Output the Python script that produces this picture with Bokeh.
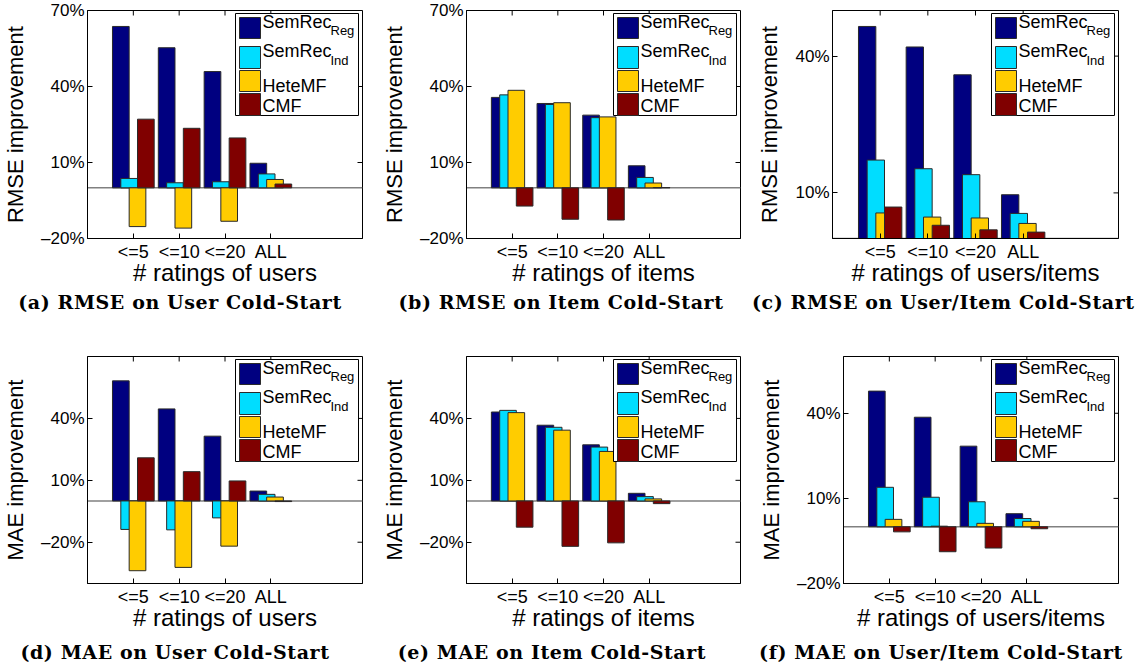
import numpy as np
from bokeh.plotting import figure
from bokeh.models import Range1d, FixedTicker, Span, BoxAnnotation, Label, Div
from bokeh.layouts import column, row
from bokeh.embed import file_html
from bokeh.resources import INLINE

# ---------------- data ----------------
categories = ["<=5", "<=10", "<=20", "ALL"]
series_names = ["SemRec", "SemRec", "HeteMF", "CMF"]
series_subs = ["Reg", "Ind", "", ""]
colors = ["#000080", "#00DDFF", "#FFCC00", "#800000"]

# (a) RMSE on User Cold-Start
a_reg = [63.7, 55.3, 45.9, 9.7]
a_ind = [3.7, 2.0, 2.4, 5.5]
a_hete = [-15.3, -15.9, -13.2, 3.3]
a_cmf = [27.1, 23.5, 19.7, 1.5]

# (b) RMSE on Item Cold-Start
b_reg = [35.7, 33.3, 28.7, 8.7]
b_ind = [36.7, 32.9, 27.7, 4.1]
b_hete = [38.5, 33.6, 28.0, 1.9]
b_cmf = [-7.2, -12.4, -12.7, 0.1]

# (c) RMSE on User/Item Cold-Start
c_reg = [46.5, 42.0, 35.9, 9.6]
c_ind = [17.2, 15.3, 14.0, 5.5]
c_hete = [5.6, 4.7, 4.5, 3.3]
c_cmf = [6.9, 2.9, 1.9, 1.4]

# (d) MAE on User Cold-Start
d_reg = [58.2, 44.6, 31.4, 4.8]
d_ind = [-13.8, -14.0, -8.2, 3.2]
d_hete = [-33.8, -32.2, -21.9, 1.9]
d_cmf = [20.9, 14.2, 9.7, -0.3]

# (e) MAE on Item Cold-Start
e_reg = [43.1, 36.7, 27.2, 3.7]
e_ind = [43.9, 35.7, 26.1, 2.1]
e_hete = [42.8, 34.3, 24.0, 1.0]
e_cmf = [-12.7, -22.0, -20.3, -1.3]

# (f) MAE on User/Item Cold-Start
f_reg = [47.8, 38.6, 28.4, 4.6]
f_ind = [13.9, 10.4, 8.8, 2.9]
f_hete = [2.6, 0.2, 1.2, 1.9]
f_cmf = [-1.8, -8.8, -7.5, -0.7]

y_ticks_rmse = [-20, 10, 40, 70]
y_ticks_rmse_ui = [10, 40]
y_ticks_mae = [-20, 10, 40]

SANS = "Liberation Sans"
SERIF = "DejaVu Serif"


def pct(t):
    return (f"{t}%").replace("-", "\u2013")


def panel(series, ylim, yticks, ylabel, xlabel, fw, fh, bl, br, bt, bb):
    x0, x1 = 0, 6
    p = figure(frame_width=fw, frame_height=fh,
               x_range=Range1d(x0, x1), y_range=Range1d(*ylim),
               output_backend="svg", toolbar_location=None,
               min_border_left=bl, min_border_right=br,
               min_border_top=bt, min_border_bottom=bb,
               background_fill_color="white", border_fill_color="white",
               outline_line_color="black", outline_line_width=1)
    p.xgrid.visible = False
    p.ygrid.visible = False

    p.add_layout(Span(location=0, dimension="width", line_color="#808080",
                      line_width=1.5, level="underlay"))

    xs = np.arange(1, len(categories) + 1)
    step = 0.182
    offsets = [-1.5 * step, -0.5 * step, 0.5 * step, 1.5 * step]
    for vals, off, col in zip(series, offsets, colors):
        p.vbar(x=xs + off, top=vals, bottom=0, width=0.364,
               fill_color=col, line_color="#2a2a2a", line_width=1)

    # inward tick marks on the right and top edges of the box
    ymin, ymax = ylim
    dx = 5 * (x1 - x0) / fw
    dy = 5 * (ymax - ymin) / fh
    p.segment(x0=[x1] * len(yticks), x1=[x1 - dx] * len(yticks), y0=yticks, y1=yticks,
              line_color="black", line_width=1)
    p.segment(x0=list(xs), x1=list(xs), y0=[ymax] * len(xs), y1=[ymax - dy] * len(xs),
              line_color="black", line_width=1)

    xa = p.xaxis[0]
    xa.ticker = FixedTicker(ticks=list(xs))
    xa.major_label_overrides = {int(i): c for i, c in zip(xs, categories)}
    ya = p.yaxis[0]
    ya.ticker = FixedTicker(ticks=yticks)
    ya.major_label_overrides = {t: pct(t) for t in yticks}
    for ax in (xa, ya):
        ax.major_tick_in = 5
        ax.major_tick_out = 0
        ax.minor_tick_line_color = None
        ax.axis_line_color = "black"
        ax.major_tick_line_color = "black"
        ax.major_label_text_font = SANS
        ax.major_label_text_font_size = "17px"
        ax.major_label_text_color = "black"
        ax.axis_label_text_font = SANS
        ax.axis_label_text_font_style = "normal"
        ax.axis_label_text_color = "black"
    xa.major_label_text_font_size = "18px"
    xa.major_label_standoff = 3
    xa.axis_label = xlabel
    xa.axis_label_text_font_size = "24px"
    xa.axis_label_standoff = -6
    ya.major_label_standoff = 3
    ya.axis_label = ylabel
    ya.axis_label_text_font_size = "22px"
    ya.axis_label_standoff = 10

    # legend (screen units, relative to the frame)
    bx1 = fw - 4
    bx0 = bx1 - 123
    by1 = fh - 3
    by0 = by1 - 102
    su = dict(left_units="screen", right_units="screen", top_units="screen", bottom_units="screen")
    p.add_layout(BoxAnnotation(left=bx0, right=bx1, bottom=by0, top=by1,
                               fill_color="white", fill_alpha=1.0,
                               line_color="black", line_width=1, line_alpha=1.0, **su))
    sw_top = [4, 33, 57, 80]
    sw_bot = [25, 55, 78, 102]
    for col, t0, t1 in zip(colors, sw_top, sw_bot):
        p.add_layout(BoxAnnotation(left=bx0 + 4, right=bx0 + 25, top=by1 - t0, bottom=by1 - t1,
                                   fill_color=col, fill_alpha=1.0, line_color="#2a2a2a",
                                   line_width=1, line_alpha=1.0, **su))
    base_main = [8, 37.3, 72.3, 92.3]
    base_sub = [17.3, 47, 0, 0]
    for name, sub, b0, b1 in zip(series_names, series_subs, base_main, base_sub):
        p.add_layout(Label(x=bx0 + 27, y=by1 - b0, x_units="screen", y_units="screen",
                           text=name, text_font=SANS, text_font_size="18px",
                           text_color="black", text_baseline="alphabetic"))
        if sub:
            p.add_layout(Label(x=bx0 + 95, y=by1 - b1, x_units="screen", y_units="screen",
                               text=sub, text_font=SANS, text_font_size="13px",
                               text_color="black", text_baseline="alphabetic"))
    return p


def caption(text, cell_w, center, h, top_pad):
    html = (f'<div style="width:{2 * center}px;text-align:center;white-space:nowrap;'
            f'font-family:\'{SERIF}\';font-weight:bold;font-size:19px;letter-spacing:0.6px;'
            f'color:black;line-height:24px;margin-top:{top_pad}px;">{text}</div>')
    return Div(text=html, width=cell_w, height=h, margin=(0, 0, 0, 0))


pa = panel([a_reg, a_ind, a_hete, a_cmf], (-20, 70), y_ticks_rmse, "RMSE improvement",
           "# ratings of users", 275, 228, 87, 14, 10, 52)
pb = panel([b_reg, b_ind, b_hete, b_cmf], (-20, 70), y_ticks_rmse, "RMSE improvement",
           "# ratings of items", 274, 228, 90, 12, 10, 52)
pc = panel([c_reg, c_ind, c_hete, c_cmf], (0, 50), y_ticks_rmse_ui, "RMSE improvement",
           "# ratings of users/items", 286, 228, 80, 12, 10, 52)
pd_ = panel([d_reg, d_ind, d_hete, d_cmf], (-40, 70), y_ticks_mae, "MAE improvement",
            "# ratings of users", 275, 227, 87, 14, 32, 52)
pe = panel([e_reg, e_ind, e_hete, e_cmf], (-40, 70), y_ticks_mae, "MAE improvement",
           "# ratings of items", 274, 227, 90, 12, 32, 52)
pf = panel([f_reg, f_ind, f_hete, f_cmf], (-20, 60), y_ticks_mae, "MAE improvement",
           "# ratings of users/items", 275, 227, 91, 12, 32, 52)

cap_row1 = row(caption("(a) RMSE on User Cold-Start", 376, 180, 34, 0),
               caption("(b) RMSE on Item Cold-Start", 376, 185, 34, 0),
               caption("(c) RMSE on User/Item Cold-Start", 378, 187, 34, 0))
cap_row2 = row(caption("(d) MAE on User Cold-Start", 376, 175, 30, 5),
               caption("(e) MAE on Item Cold-Start", 376, 176, 30, 5),
               caption("(f) MAE on User/Item Cold-Start", 378, 189, 30, 5))

layout = column(row(pa, pb, pc), cap_row1, row(pd_, pe, pf), cap_row2)
open("out.html", "w").write(file_html(layout, INLINE))
